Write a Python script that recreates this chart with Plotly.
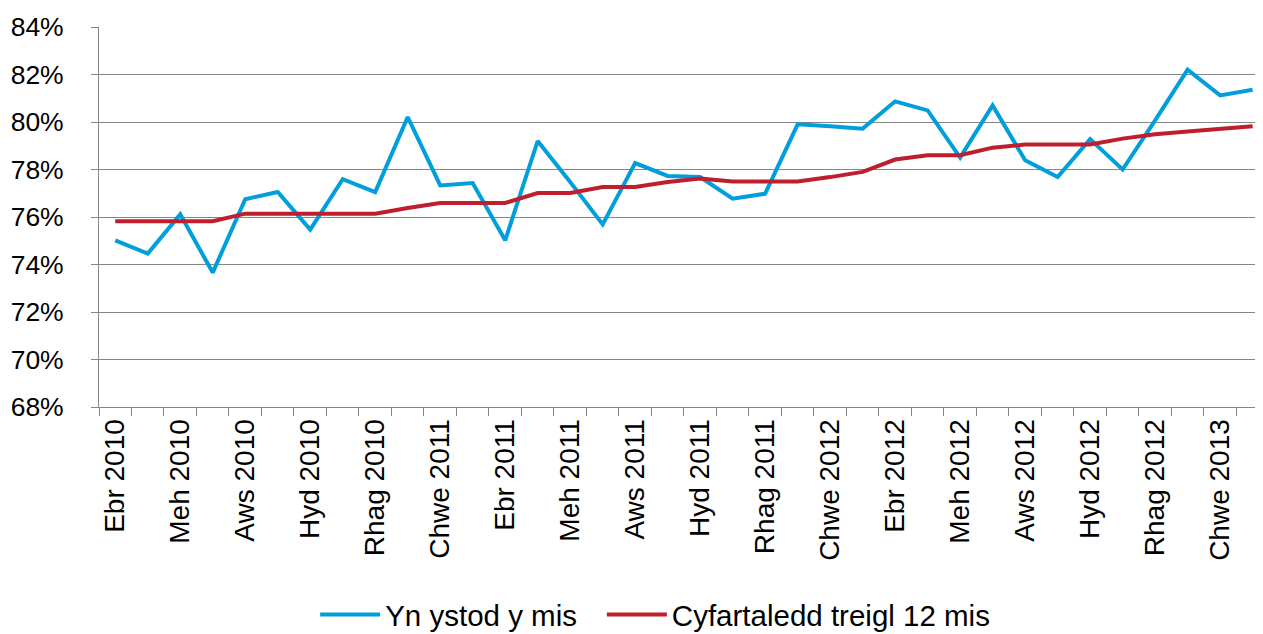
import plotly.graph_objects as go

months = [
    "Ebr 2010", "Mai 2010", "Meh 2010", "Gor 2010", "Aws 2010", "Medi 2010",
    "Hyd 2010", "Tach 2010", "Rhag 2010", "Ion 2011", "Chwe 2011", "Maw 2011",
    "Ebr 2011", "Mai 2011", "Meh 2011", "Gor 2011", "Aws 2011", "Medi 2011",
    "Hyd 2011", "Tach 2011", "Rhag 2011", "Ion 2012", "Chwe 2012", "Maw 2012",
    "Ebr 2012", "Mai 2012", "Meh 2012", "Gor 2012", "Aws 2012", "Medi 2012",
    "Hyd 2012", "Tach 2012", "Rhag 2012", "Ion 2013", "Chwe 2013", "Maw 2013",
]

in_month = [
    75.02, 74.46, 76.11, 73.66, 76.75, 77.05, 75.47, 77.59, 77.05, 80.21,
    77.33, 77.43, 75.02, 79.20, 77.47, 75.69, 78.27, 77.73, 77.68, 76.77,
    76.98, 79.90, 79.82, 79.72, 80.87, 80.49, 78.50, 80.70, 78.39, 77.68,
    79.28, 78.00, 80.07, 82.20, 81.12, 81.36,
]

rolling_12 = [
    75.82, 75.82, 75.82, 75.82, 76.14, 76.14, 76.14, 76.14, 76.14, 76.38,
    76.59, 76.59, 76.59, 77.01, 77.01, 77.26, 77.26, 77.47, 77.62, 77.50,
    77.50, 77.50, 77.68, 77.90, 78.42, 78.60, 78.60, 78.92, 79.05, 79.05,
    79.05, 79.30, 79.48, 79.60, 79.72, 79.82,
]

tick_labels = [m if i % 2 == 0 else "" for i, m in enumerate(months)]
y_ticks = [68, 70, 72, 74, 76, 78, 80, 82, 84]
y_tick_text = [f"{v}%" for v in y_ticks]

series_names = ["Yn ystod y mis", "Cyfartaledd treigl 12 mis"]

FONT = "Liberation Sans, Arial, sans-serif"
GRID = "#868686"

fig = go.Figure()
fig.add_trace(go.Scatter(
    x=months, y=in_month, mode="lines", name=series_names[0],
    line=dict(color="#009FDB", width=4), legend="legend",
))
fig.add_trace(go.Scatter(
    x=months, y=rolling_12, mode="lines", name=series_names[1],
    line=dict(color="#BE1E2D", width=4), legend="legend2",
))

legend_common = dict(
    orientation="h", xanchor="left", y=-0.547, yanchor="middle",
    font=dict(size=29.5, family=FONT, color="black"),
    itemwidth=60, bgcolor="rgba(0,0,0,0)",
)

fig.update_layout(
    width=1255, height=626,
    margin=dict(l=91, r=0, t=19, b=227, autoexpand=False),
    paper_bgcolor="white", plot_bgcolor="white",
    font=dict(family=FONT, color="black"),
    showlegend=True,
    legend=dict(x=0.1857, **legend_common),
    legend2=dict(x=0.4320, **legend_common),
    xaxis=dict(
        type="category", automargin=False,
        tickmode="array", tickvals=months, ticktext=tick_labels,
        tickson="boundaries",
        ticks="outside", ticklen=8, tickcolor=GRID, tickwidth=1,
        tickangle=-90,
        tickfont=dict(size=28, family=FONT, color="black"),
        showline=True, linecolor=GRID, linewidth=1,
        showgrid=False, zeroline=False,
        range=[-0.5, 35.32],
    ),
    yaxis=dict(
        range=[68, 84], automargin=False,
        tickmode="array", tickvals=y_ticks, ticktext=y_tick_text,
        ticks="outside", ticklen=7, tickcolor=GRID, tickwidth=1,
        tickfont=dict(size=26.5, family=FONT, color="black"),
        ticklabelstandoff=22,
        showline=True, linecolor=GRID, linewidth=1,
        showgrid=True, gridcolor=GRID, gridwidth=1,
        zeroline=False,
    ),
)

fig.write_html("out.html")
